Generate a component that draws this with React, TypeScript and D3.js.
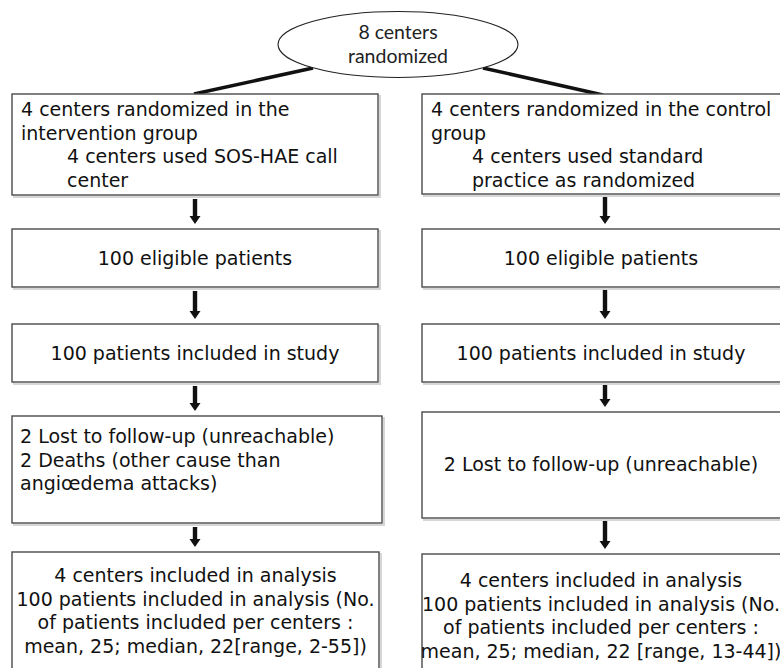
import React from "react";
import * as d3 from "d3";

const ellipseLines = ["8 centers", "randomized"];
const leftStage1 = ["4 centers randomized in the", "intervention group", "4 centers used SOS-HAE call", "center"];
const rightStage1 = ["4 centers randomized in the control", "group", "4 centers used standard", "practice as randomized"];
const eligibleText = ["100 eligible patients"];
const includedText = ["100 patients included in study"];
const leftLost = ["2 Lost to follow-up (unreachable)", "2 Deaths (other cause than", "angiœdema attacks)"];
const rightLost = ["2 Lost to follow-up (unreachable)"];
const leftAnalysis = [
  "4 centers included in analysis",
  "100 patients included in analysis (No.",
  "of patients included per centers :",
  "mean, 25; median, 22[range, 2-55])",
];
const rightAnalysis = [
  "4 centers included in analysis",
  "100 patients included in analysis (No.",
  "of patients included per centers :",
  "mean, 25; median, 22 [range, 13-44])",
];

const FONT = "'DejaVu Sans', 'Open Sans', sans-serif";
const ELL_FONT = "Lato, 'Open Sans', sans-serif";

type Box = { x0: number; x1: number; y0: number; y1: number };

function arrowPath(x: number, y0: number, y1: number) {
  const p = d3.path();
  const sw = 2.2, hw = 5.5, hl = 8;
  p.moveTo(x - sw, y0);
  p.lineTo(x + sw, y0);
  p.lineTo(x + sw, y1 - hl);
  p.lineTo(x + hw, y1 - hl);
  p.lineTo(x, y1);
  p.lineTo(x - hw, y1 - hl);
  p.lineTo(x - sw, y1 - hl);
  p.closePath();
  return p.toString();
}

function BoxRect({ b }: { b: Box }) {
  return (
    <g>
      <rect x={b.x0 + 2} y={b.y0 + 2} width={b.x1 - b.x0} height={b.y1 - b.y0} fill="none" stroke="#d6d6d6" strokeWidth={2} />
      <rect x={b.x0} y={b.y0} width={b.x1 - b.x0} height={b.y1 - b.y0} fill="#fff" stroke="#4a4a4a" strokeWidth={1.4} />
    </g>
  );
}

export default function App() {
  const W = 780, H = 668;
  const left = { x0: 12, x1: 378, ax: 195 };
  const right = { x0: 422, x1: 782, ax: 605 };
  const leftRows: [number, number][] = [[94, 195], [229, 287], [324, 382], [416, 523], [552, 720]];
  const rightRows: [number, number][] = [[94, 194], [229, 287], [324, 382], [412, 518], [554, 720]];

  const leftBoxes: Box[] = leftRows.map(([y0, y1]) => ({ x0: left.x0, x1: left.x1, y0, y1 }));
  const rightBoxes: Box[] = rightRows.map(([y0, y1]) => ({ x0: right.x0, x1: right.x1, y0, y1 }));
  leftBoxes[3].x1 = 382;
  leftBoxes[4].x1 = 379;

  const ell = { cx: 398, cy: 44.5, rx: 120, ry: 33 };
  const lh = 23.5;

  const centered = (lines: string[], b: Box, firstBaseline: number, key: string) =>
    lines.map((t, i) => (
      <text key={key + i} x={(b.x0 + Math.min(b.x1, 780)) / 2} y={firstBaseline + i * lh} textAnchor="middle">
        {t}
      </text>
    ));

  const arrows: { x: number; y0: number; y1: number }[] = [];
  for (let i = 0; i < 4; i++) {
    arrows.push({ x: left.ax, y0: leftRows[i][1] + 4, y1: leftRows[i + 1][0] - 5 });
    arrows.push({ x: right.ax, y0: rightRows[i][1] + 3, y1: rightRows[i + 1][0] - 5 });
  }

  return (
    <svg width={W} height={H} style={{ position: "absolute", left: 0, top: 0, background: "#fff" }}>
      <rect width={W} height={H} fill="#fff" />
      <line x1={313} y1={68} x2={194} y2={94} stroke="#111" strokeWidth={3.5} />
      <line x1={483} y1={68} x2={603} y2={95} stroke="#111" strokeWidth={3.5} />
      <ellipse cx={ell.cx} cy={ell.cy} rx={ell.rx} ry={ell.ry} fill="#fff" stroke="#222" strokeWidth={1.1} />
      <g fontFamily={ELL_FONT} fontSize={19.5} fill="#222" textAnchor="middle">
        {ellipseLines.map((t, i) => (
          <text key={i} x={ell.cx} y={39 + i * 24}>
            {t}
          </text>
        ))}
      </g>

      {leftBoxes.map((b, i) => <BoxRect key={"l" + i} b={b} />)}
      {rightBoxes.map((b, i) => <BoxRect key={"r" + i} b={b} />)}

      {arrows.map((a, i) => (
        <path key={"a" + i} d={arrowPath(a.x, a.y0, a.y1)} fill="#111" />
      ))}

      <g fontFamily={FONT} fontSize={19} fill="#111">
        {leftStage1.map((t, i) => (
          <text key={"ls" + i} x={left.x0 + (i < 2 ? 9 : 55)} y={116 + i * lh}>
            {t}
          </text>
        ))}
        {rightStage1.map((t, i) => (
          <text key={"rs" + i} x={right.x0 + (i < 2 ? 9 : 50)} y={116 + i * lh}>
            {t}
          </text>
        ))}
        {centered(eligibleText, leftBoxes[1], 265, "le")}
        {centered(eligibleText, { ...rightBoxes[1], x1: 780 }, 265, "re")}
        {centered(includedText, leftBoxes[2], 360, "li")}
        {centered(includedText, { ...rightBoxes[2], x1: 780 }, 360, "ri")}
        {leftLost.map((t, i) => (
          <text key={"ll" + i} x={left.x0 + 8} y={443 + i * lh}>
            {t}
          </text>
        ))}
        {centered(rightLost, { ...rightBoxes[3], x1: 780 }, 471, "rl")}
        {centered(leftAnalysis, leftBoxes[4], 582, "la")}
        {centered(rightAnalysis, { ...rightBoxes[4], x1: 780 }, 587, "ra")}
      </g>
    </svg>
  );
}
